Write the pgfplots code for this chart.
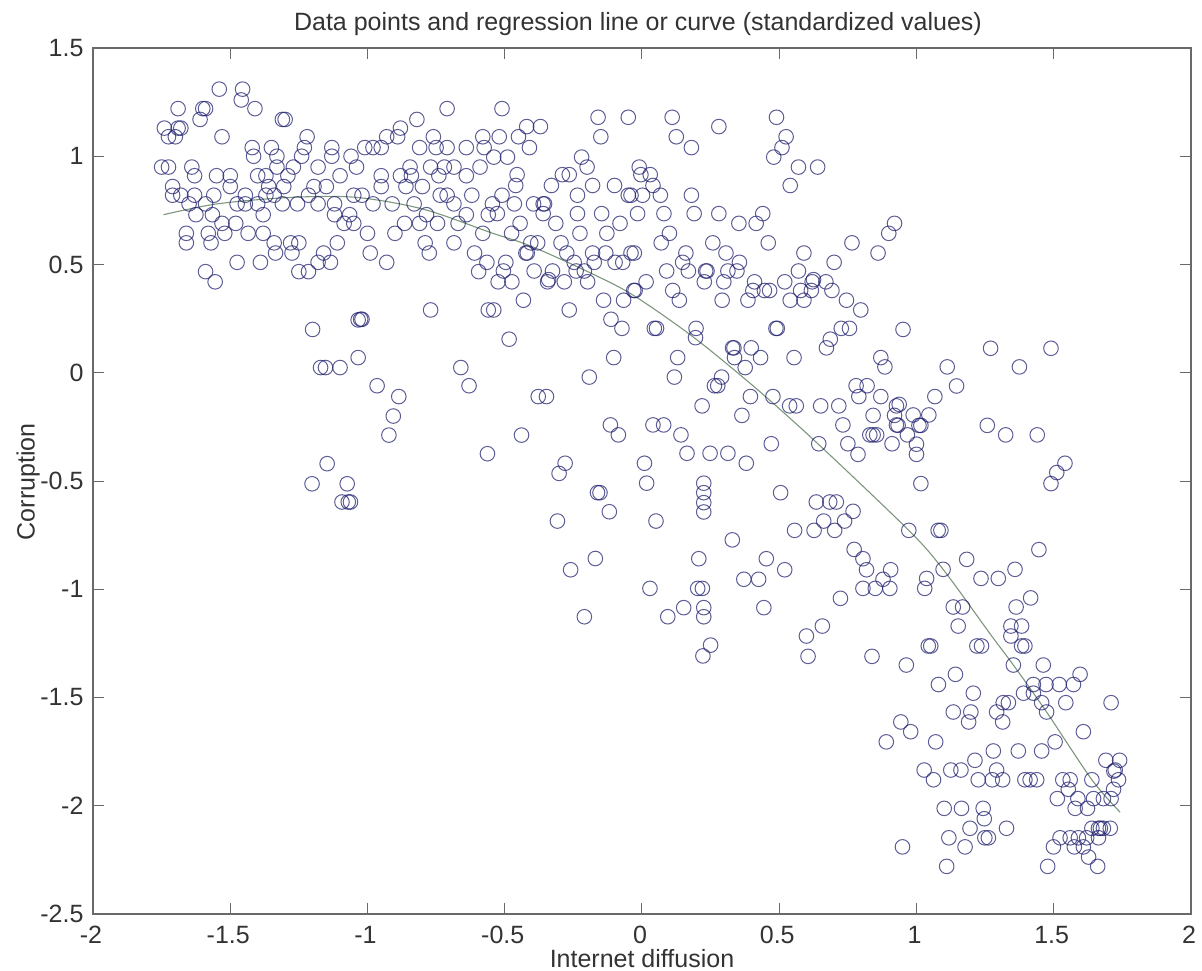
\documentclass[border=0pt]{standalone}
\usepackage{fontspec}
\setmainfont{Liberation Sans}
\usepackage{pgfplots}
\pgfplotsset{compat=1.18}
\definecolor{ptcol}{RGB}{30,30,110}
\definecolor{fitcol}{RGB}{125,150,125}
\definecolor{axcol}{RGB}{105,105,105}

\begin{document}
\begin{tikzpicture}[x=1pt,y=1pt]
\useasboundingbox (-93,-56) rectangle (1109,914);
\begin{axis}[
    at={(0,0)}, anchor=south west,
    scale only axis, width=1098pt, height=866pt,
    xmin=-2, xmax=2, ymin=-2.5, ymax=1.5,
    xtick={-2,-1.5,-1,-0.5,0,0.5,1,1.5,2},
    xticklabels={-2,-1.5,-1,-0.5,0,0.5,1,1.5,2},
    ytick={-2.5,-2,-1.5,-1,-0.5,0,0.5,1,1.5},
    yticklabels={-2.5,-2,-1.5,-1,-0.5,0,0.5,1,1.5},
    tick align=inside,
    major tick length=11pt,
    tick style={line width=1pt, color=axcol},
    axis line style={line width=1.6pt, color=axcol},
    tick label style={font=\fontsize{25}{25}\selectfont, text=black!80},
    x tick label style={yshift=-9pt, xshift=-2pt},
    y tick label style={xshift=-6pt},
    title={Data points and regression line or curve (standardized values)},
    title style={font=\fontsize{25}{25}\selectfont, text=black!80, at={(axis description cs:0.4964,1.0205)}, anchor=center},
    xlabel={Internet diffusion},
    xlabel style={font=\fontsize{25}{25}\selectfont, text=black!80, at={(axis description cs:0.5,-0.0515)}, anchor=center},
    ylabel={Corruption},
    ylabel style={font=\fontsize{25}{25}\selectfont, text=black!80, at={(axis description cs:-0.059,0.499)}, anchor=center, rotate=0},
]
% regression curve
\addplot[color=fitcol, line width=1.1pt, smooth] coordinates {
(-1.743,0.73) (-1.548,0.78) (-1.28,0.81) (-1.04,0.81) (-0.795,0.755) (-0.55,0.647)
(-0.405,0.585) (-0.186,0.46) (-0.028,0.355) (0.19,0.162) (0.42,-0.077) (0.64,-0.327)
(0.972,-0.728) (1.097,-0.908) (1.274,-1.216) (1.353,-1.35) (1.474,-1.567) (1.639,-1.88) (1.742,-2.03)
};
% data points
\addplot[only marks, mark=o, mark size=7.3pt, color=ptcol,
    mark options={line width=1pt, draw opacity=0.72}] table {
x y
-1.54 1.31
-1.455 1.31
-1.46 1.26
-1.41 1.22
-1.69 1.22
-1.60 1.22
-1.59 1.22
-0.71 1.22
-1.61 1.17
-1.31 1.17
-1.30 1.17
-0.82 1.17
-1.74 1.13
-1.68 1.13
-1.69 1.13
-0.88 1.13
-1.725 1.09
-1.70 1.09
-1.53 1.09
-1.22 1.09
-0.93 1.09
-0.89 1.09
-0.76 1.09
-0.58 1.09
-1.42 1.04
-1.35 1.04
-1.23 1.04
-1.13 1.04
-1.01 1.04
-0.98 1.04
-0.95 1.04
-0.81 1.04
-0.75 1.04
-0.71 1.04
-0.64 1.04
-0.575 1.04
-1.415 1.00
-1.33 1.00
-1.24 1.00
-1.13 1.00
-1.06 1.00
-1.75 0.95
-1.725 0.95
-1.64 0.95
-1.33 0.95
-1.27 0.95
-1.18 0.95
-1.04 0.95
-0.845 0.95
-0.77 0.95
-0.72 0.95
-0.685 0.95
-0.59 0.95
-1.63 0.91
-1.55 0.91
-1.50 0.91
-1.40 0.91
-1.37 0.91
-1.29 0.91
-1.10 0.91
-0.95 0.91
-0.88 0.91
-0.84 0.91
-0.74 0.91
-0.64 0.91
-1.50 0.86
-1.36 0.86
-1.305 0.86
-1.71 0.86
-1.195 0.86
-1.15 0.86
-0.95 0.86
-0.86 0.86
-0.80 0.86
-1.71 0.82
-1.68 0.82
-1.63 0.82
-1.56 0.82
-1.445 0.82
-1.37 0.82
-1.34 0.82
-1.215 0.82
-1.05 0.82
-1.02 0.82
-0.735 0.82
-0.71 0.82
-0.62 0.82
-1.65 0.78
-1.59 0.78
-1.475 0.78
-1.445 0.78
-1.40 0.78
-1.31 0.78
-1.255 0.78
-1.18 0.78
-1.12 0.78
-0.98 0.78
-0.91 0.78
-0.83 0.78
-0.685 0.78
-1.625 0.73
-1.565 0.73
-1.38 0.73
-1.12 0.73
-1.065 0.73
-0.785 0.73
-0.64 0.73
-0.56 0.73
-1.53 0.69
-1.48 0.69
-1.085 0.69
-1.05 0.69
-0.865 0.69
-0.81 0.69
-0.745 0.69
-0.67 0.69
-1.66 0.644
-1.58 0.644
-1.52 0.644
-1.435 0.644
-1.38 0.644
-1.0 0.644
-0.90 0.644
-0.58 0.644
-1.66 0.60
-1.57 0.60
-1.34 0.60
-1.28 0.60
-1.25 0.60
-1.11 0.60
-0.79 0.60
-0.685 0.60
-1.335 0.553
-1.275 0.553
-1.16 0.553
-0.99 0.553
-0.775 0.553
-0.61 0.553
-1.475 0.51
-1.39 0.51
-1.18 0.51
-1.135 0.51
-0.93 0.51
-0.565 0.51
-1.59 0.467
-1.25 0.467
-1.215 0.467
-0.595 0.467
-1.555 0.42
-0.77 0.29
-0.56 0.29
-1.02 0.247
-1.025 0.247
-1.034 0.244
-1.20 0.20
-0.51 1.22
-0.16 1.18
-0.05 1.18
0.11 1.18
0.49 1.18
-0.42 1.137
-0.37 1.137
0.28 1.137
-0.52 1.09
-0.45 1.09
-0.15 1.09
0.125 1.09
0.525 1.09
-0.41 1.04
0.18 1.04
0.51 1.04
-0.54 0.996
-0.49 0.996
-0.22 0.996
0.48 0.996
-0.20 0.95
-0.01 0.95
0.57 0.95
0.64 0.95
-0.455 0.915
-0.29 0.915
-0.265 0.915
-0.004 0.915
0.03 0.915
-0.46 0.865
-0.33 0.865
-0.18 0.865
-0.10 0.865
0.04 0.865
0.54 0.865
-0.51 0.82
-0.235 0.82
-0.05 0.82
-0.04 0.82
0.002 0.82
0.067 0.82
0.18 0.82
-0.545 0.78
-0.465 0.78
-0.395 0.78
-0.36 0.78
-0.355 0.78
-0.527 0.735
-0.36 0.735
-0.235 0.735
-0.147 0.735
-0.016 0.735
0.08 0.735
0.19 0.735
0.28 0.735
0.44 0.735
-0.314 0.69
-0.444 0.69
-0.08 0.69
0.353 0.69
0.416 0.69
0.92 0.69
-0.475 0.644
-0.226 0.644
-0.128 0.644
0.10 0.644
0.899 0.644
-0.405 0.60
-0.38 0.60
-0.295 0.60
0.07 0.60
0.258 0.60
0.46 0.60
0.765 0.60
-0.423 0.553
-0.418 0.553
-0.18 0.553
-0.132 0.553
-0.028 0.553
-0.04 0.553
-0.274 0.553
0.16 0.553
0.306 0.553
0.59 0.553
0.86 0.553
-0.496 0.51
-0.174 0.51
-0.098 0.51
-0.07 0.51
-0.247 0.51
0.148 0.51
0.355 0.51
0.70 0.51
-0.505 0.47
-0.393 0.47
-0.326 0.47
-0.24 0.47
-0.21 0.47
0.09 0.47
0.169 0.47
0.237 0.47
0.232 0.47
0.313 0.47
0.346 0.47
0.57 0.47
-0.524 0.42
-0.474 0.42
-0.344 0.42
-0.34 0.43
-0.283 0.42
-0.198 0.42
0.015 0.42
0.227 0.42
0.298 0.42
0.41 0.42
0.52 0.42
0.62 0.42
0.625 0.43
0.67 0.42
-0.03 0.38
-0.025 0.38
0.112 0.38
0.404 0.38
0.446 0.38
0.465 0.38
0.578 0.38
0.617 0.38
0.692 0.38
-0.432 0.335
-0.14 0.335
-0.067 0.335
0.136 0.335
0.292 0.335
0.386 0.335
0.54 0.335
0.59 0.335
0.745 0.335
-0.54 0.29
-0.265 0.29
0.797 0.29
-0.113 0.247
0.197 0.205
-0.073 0.205
0.053 0.205
0.045 0.205
0.493 0.205
0.488 0.205
0.726 0.205
0.756 0.205
0.951 0.20
-0.484 0.155
0.195 0.162
0.686 0.155
0.33 0.115
0.335 0.115
0.398 0.115
0.672 0.115
-0.103 0.07
0.13 0.07
0.337 0.07
0.432 0.07
0.554 0.07
0.87 0.07
-0.192 -0.02
0.118 -0.02
0.29 -0.02
0.376 0.024
0.264 -0.06
0.276 -0.06
0.78 -0.06
0.82 -0.06
1.27 0.113
1.49 0.113
0.885 0.027
1.112 0.027
1.375 0.027
1.146 -0.061
-1.034 0.07
-1.171 0.024
-1.153 0.024
-1.10 0.024
-0.965 -0.06
-0.886 -0.11
-0.906 -0.20
-0.922 -0.288
-0.66 0.024
-0.63 -0.06
-0.378 -0.11
-0.348 -0.11
-0.439 -0.288
-0.563 -0.374
-1.147 -0.42
-1.202 -0.513
-1.074 -0.513
-1.093 -0.597
-1.062 -0.597
-1.07 -0.597
-0.28 -0.418
-0.302 -0.465
-0.162 -0.554
-0.308 -0.685
-0.17 -0.858
-0.26 -0.91
0.219 -0.153
0.395 -0.11
0.477 -0.11
0.364 -0.197
0.538 -0.153
0.562 -0.153
0.651 -0.153
0.717 -0.153
0.79 -0.11
0.87 -0.11
0.927 -0.153
0.842 -0.197
0.92 -0.197
0.937 -0.146
-0.115 -0.241
-0.086 -0.287
0.04 -0.241
0.079 -0.241
0.142 -0.287
0.471 -0.328
0.732 -0.241
0.83 -0.287
0.842 -0.287
0.855 -0.287
0.927 -0.241
0.644 -0.328
0.75 -0.328
0.911 -0.328
0.787 -0.377
0.164 -0.372
0.248 -0.372
0.313 -0.372
0.38 -0.418
0.009 -0.418
0.017 -0.51
0.225 -0.51
0.225 -0.554
0.225 -0.6
0.225 -0.643
-0.153 -0.554
-0.119 -0.642
0.051 -0.685
0.505 -0.554
0.635 -0.597
0.684 -0.597
0.708 -0.597
0.769 -0.64
0.738 -0.685
0.662 -0.685
0.556 -0.728
0.627 -0.728
0.702 -0.728
0.329 -0.772
0.773 -0.816
0.805 -0.859
0.818 -0.91
0.906 -0.91
0.878 -0.954
0.805 -0.996
0.85 -0.996
0.903 -0.996
0.207 -0.859
0.453 -0.859
0.52 -0.91
0.371 -0.954
0.425 -0.954
0.029 -0.996
0.203 -0.996
0.22 -0.996
0.723 -1.042
0.152 -1.085
0.225 -1.085
0.444 -1.085
-0.21 -1.127
0.094 -1.127
0.225 -1.127
0.657 -1.17
0.599 -1.216
0.25 -1.258
0.222 -1.308
0.605 -1.31
0.838 -1.31
0.988 -0.195
1.045 -0.195
1.067 -0.11
0.933 -0.243
1.016 -0.243
1.009 -0.243
1.258 -0.243
0.967 -0.287
1.325 -0.287
1.44 -0.287
1.0 -0.33
1.0 -0.377
1.541 -0.418
1.511 -0.461
1.49 -0.512
1.016 -0.512
0.972 -0.728
1.079 -0.728
1.089 -0.728
1.446 -0.817
1.183 -0.862
1.097 -0.908
1.359 -0.908
1.037 -0.95
1.235 -0.95
1.298 -0.95
1.03 -0.996
1.416 -1.04
1.363 -1.082
1.134 -1.082
1.168 -1.082
1.152 -1.17
1.344 -1.17
1.383 -1.17
1.344 -1.216
1.052 -1.262
1.043 -1.262
1.22 -1.262
1.237 -1.262
1.395 -1.262
1.383 -1.262
0.963 -1.35
1.462 -1.35
1.353 -1.35
1.142 -1.393
1.596 -1.393
1.08 -1.44
1.426 -1.44
1.472 -1.44
1.52 -1.44
1.572 -1.44
1.207 -1.48
1.39 -1.48
1.426 -1.48
1.316 -1.524
1.335 -1.524
1.456 -1.524
1.544 -1.524
1.709 -1.524
1.134 -1.567
1.198 -1.567
1.292 -1.567
1.474 -1.567
1.19 -1.613
1.314 -1.613
0.943 -1.613
0.979 -1.658
1.608 -1.658
0.89 -1.705
1.07 -1.705
1.505 -1.705
1.28 -1.747
1.371 -1.747
1.456 -1.747
1.213 -1.79
1.69 -1.79
1.74 -1.79
1.028 -1.835
1.125 -1.835
1.162 -1.835
1.292 -1.835
1.724 -1.835
1.719 -1.84
1.062 -1.88
1.225 -1.88
1.276 -1.88
1.314 -1.88
1.395 -1.88
1.414 -1.88
1.438 -1.88
1.533 -1.88
1.56 -1.88
1.639 -1.88
1.736 -1.88
1.553 -1.924
1.718 -1.924
1.513 -1.967
1.588 -1.967
1.645 -1.967
1.681 -1.967
1.709 -1.967
1.101 -2.012
1.164 -2.012
1.243 -2.012
1.578 -2.012
1.623 -2.012
1.247 -2.06
1.195 -2.104
1.328 -2.104
1.639 -2.104
1.663 -2.104
1.67 -2.104
1.681 -2.104
1.706 -2.104
1.118 -2.148
1.249 -2.148
1.262 -2.148
1.523 -2.148
1.56 -2.148
1.59 -2.148
1.62 -2.148
1.663 -2.148
1.177 -2.19
0.949 -2.19
1.499 -2.19
1.575 -2.19
1.608 -2.19
1.627 -2.237
1.11 -2.28
1.478 -2.28
1.66 -2.28
};
\end{axis}
\end{tikzpicture}
\end{document}
